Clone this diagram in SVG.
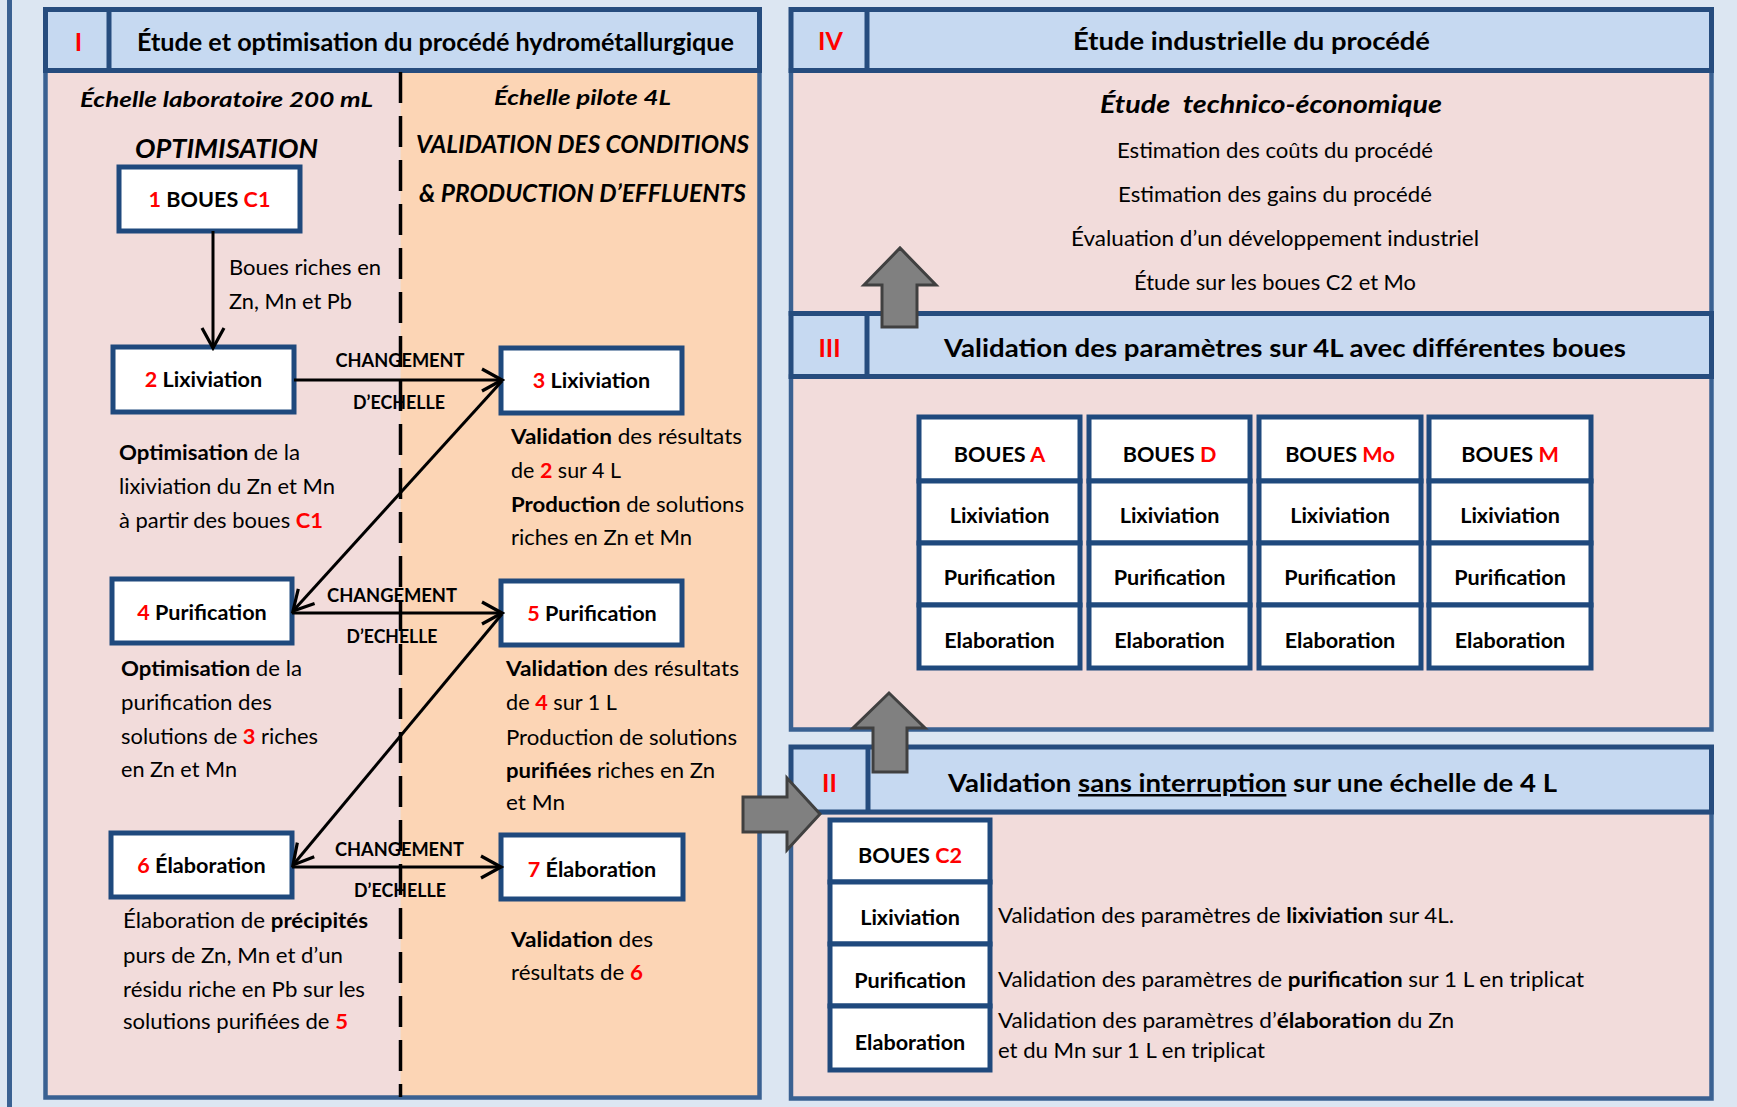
<svg xmlns="http://www.w3.org/2000/svg" width="1737" height="1107" viewBox="0 0 1737 1107">
<defs>
<style>
.t{font-family:Lato,'Liberation Sans',sans-serif;font-size:21.6px;fill:#000}
.b{font-weight:700}
.bi{font-weight:700;font-style:italic}
.r{fill:#ff0000;font-weight:700}
.hd{font-size:25px;font-weight:700}
.ch{font-size:19.2px;font-weight:700}
.m{text-anchor:middle}
.hdr{fill:#c6d9f1;stroke:#264c7e;stroke-width:5}
.pink{fill:#f2dcdb}
.peach{fill:#fcd5b5}
.frame{fill:none;stroke:#3a6192;stroke-width:4.5}
.box{fill:#fff;stroke:#1f497d;stroke-width:5}
.arr{stroke:#000;stroke-width:3;fill:none;marker-end:url(#ah)}
.blk{fill:#808080;stroke:#404040;stroke-width:3;stroke-linejoin:miter}
</style>
<marker id="ah" markerUnits="userSpaceOnUse" markerWidth="26" markerHeight="26" viewBox="0 0 26 26" refX="23" refY="13" orient="auto">
<path d="M3,2 L23,13 L3,24" fill="none" stroke="#000" stroke-width="3.2"/>
</marker>
</defs>

<rect x="0" y="0" width="1737" height="1107" fill="#dce6f2"/>
<line x1="9.5" y1="0" x2="9.5" y2="1107" stroke="#3a6192" stroke-width="5"/>

<!-- Panel I -->
<g id="panel-I">
<rect class="pink" x="45.5" y="70.5" width="355" height="1027"/>
<rect class="peach" x="400.5" y="70.5" width="359" height="1027"/>
<rect class="frame" x="45.5" y="70.5" width="714" height="1027"/>
<rect class="hdr" x="45.5" y="9.5" width="714" height="61"/>
<line x1="109" y1="9.5" x2="109" y2="70.5" stroke="#264c7e" stroke-width="5"/>
<text class="t hd r m" x="78.5" y="51">I</text>
<text class="t hd m" x="435.5" y="51" textLength="597" lengthAdjust="spacingAndGlyphs">Étude et optimisation du procédé hydrométallurgique</text>
<line x1="400.5" y1="72" x2="400.5" y2="1097" stroke="#000" stroke-width="3.5" stroke-dasharray="31 13"/>
<text class="t bi" x="80" y="107" textLength="293" lengthAdjust="spacingAndGlyphs">Échelle laboratoire 200 mL</text>
<text class="t bi" x="494" y="105" textLength="177" lengthAdjust="spacingAndGlyphs">Échelle pilote 4L</text>
<text class="t bi" x="135" y="158" style="font-size:26.4px" textLength="183" lengthAdjust="spacingAndGlyphs">OPTIMISATION</text>
<text class="t bi" x="416" y="153" style="font-size:24px" textLength="333" lengthAdjust="spacingAndGlyphs">VALIDATION DES CONDITIONS</text>
<text class="t bi" x="419" y="202" style="font-size:24px" textLength="327" lengthAdjust="spacingAndGlyphs">&amp; PRODUCTION D’EFFLUENTS</text>
</g>

<g id="node-1">
<rect class="box" x="119" y="167" width="181" height="64"/>
<text class="t b m" x="209.5" y="207"><tspan class="r">1</tspan> BOUES <tspan class="r">C1</tspan></text>
</g>
<text class="t" x="229" y="275" textLength="152" lengthAdjust="spacingAndGlyphs">Boues riches en</text>
<text class="t" x="229" y="309" textLength="123" lengthAdjust="spacingAndGlyphs">Zn, Mn et Pb</text>

<g id="node-2">
<rect class="box" x="113" y="347" width="181" height="65"/>
<text class="t b m" x="203.5" y="387"><tspan class="r">2</tspan> Lixiviation</text>
</g>
<g id="node-3">
<rect class="box" x="501" y="348" width="181" height="65"/>
<text class="t b m" x="591.5" y="388"><tspan class="r">3</tspan> Lixiviation</text>
</g>
<g id="node-4">
<rect class="box" x="112" y="579" width="180" height="64"/>
<text class="t b m" x="202" y="620"><tspan class="r">4</tspan> Purification</text>
</g>
<g id="node-5">
<rect class="box" x="501" y="581" width="181" height="64"/>
<text class="t b m" x="592" y="621"><tspan class="r">5</tspan> Purification</text>
</g>
<g id="node-6">
<rect class="box" x="111" y="833" width="181" height="64"/>
<text class="t b m" x="201.5" y="873"><tspan class="r">6</tspan> Élaboration</text>
</g>
<g id="node-7">
<rect class="box" x="501" y="835" width="182" height="64"/>
<text class="t b m" x="592" y="877"><tspan class="r">7</tspan> Élaboration</text>
</g>

<g id="texts-I">
<text class="t" x="119" y="460" textLength="181" lengthAdjust="spacingAndGlyphs"><tspan class="b">Optimisation</tspan> de la</text>
<text class="t" x="119" y="494" textLength="216" lengthAdjust="spacingAndGlyphs">lixiviation du Zn et Mn</text>
<text class="t" x="119" y="528" textLength="204" lengthAdjust="spacingAndGlyphs">à partir des boues <tspan class="r">C1</tspan></text>

<text class="t" x="511" y="444" textLength="231" lengthAdjust="spacingAndGlyphs"><tspan class="b">Validation</tspan> des résultats</text>
<text class="t" x="511" y="478" textLength="110" lengthAdjust="spacingAndGlyphs">de <tspan class="r">2</tspan> sur 4 L</text>
<text class="t" x="511" y="512" textLength="233" lengthAdjust="spacingAndGlyphs"><tspan class="b">Production</tspan> de solutions</text>
<text class="t" x="511" y="545" textLength="181" lengthAdjust="spacingAndGlyphs">riches en Zn et Mn</text>

<text class="t" x="121" y="676" textLength="181" lengthAdjust="spacingAndGlyphs"><tspan class="b">Optimisation</tspan> de la</text>
<text class="t" x="121" y="710" textLength="151" lengthAdjust="spacingAndGlyphs">purification des</text>
<text class="t" x="121" y="744" textLength="197" lengthAdjust="spacingAndGlyphs">solutions de <tspan class="r">3</tspan> riches</text>
<text class="t" x="121" y="777" textLength="116" lengthAdjust="spacingAndGlyphs">en Zn et Mn</text>

<text class="t" x="506" y="676" textLength="233" lengthAdjust="spacingAndGlyphs"><tspan class="b">Validation</tspan> des résultats</text>
<text class="t" x="506" y="710" textLength="111" lengthAdjust="spacingAndGlyphs">de <tspan class="r">4</tspan> sur 1 L</text>
<text class="t" x="506" y="745" textLength="231" lengthAdjust="spacingAndGlyphs">Production de solutions</text>
<text class="t" x="506" y="778" textLength="209" lengthAdjust="spacingAndGlyphs"><tspan class="b">purifiées</tspan> riches en Zn</text>
<text class="t" x="506" y="810" textLength="59" lengthAdjust="spacingAndGlyphs">et Mn</text>

<text class="t" x="123" y="928" textLength="245" lengthAdjust="spacingAndGlyphs">Élaboration de <tspan class="b">précipités</tspan></text>
<text class="t" x="123" y="963" textLength="220" lengthAdjust="spacingAndGlyphs">purs de Zn, Mn et d’un</text>
<text class="t" x="123" y="997" textLength="242" lengthAdjust="spacingAndGlyphs">résidu riche en Pb sur les</text>
<text class="t" x="123" y="1029" textLength="225" lengthAdjust="spacingAndGlyphs">solutions purifiées de <tspan class="r">5</tspan></text>

<text class="t" x="511" y="947" textLength="142" lengthAdjust="spacingAndGlyphs"><tspan class="b">Validation</tspan> des</text>
<text class="t" x="511" y="980" textLength="132" lengthAdjust="spacingAndGlyphs">résultats de <tspan class="r">6</tspan></text>
</g>

<!-- Panel IV -->
<g id="panel-IV">
<rect class="pink" x="791" y="70.5" width="920.5" height="243"/>
<rect class="frame" x="791" y="70.5" width="920.5" height="243"/>
<rect class="hdr" x="791" y="9.5" width="920.5" height="61"/>
<line x1="867" y1="9.5" x2="867" y2="70.5" stroke="#264c7e" stroke-width="5"/>
<text class="t hd r m" x="830.5" y="50">IV</text>
<text class="t hd m" x="1251.5" y="50" textLength="357" lengthAdjust="spacingAndGlyphs">Étude industrielle du procédé</text>
<text class="t bi m" x="1271" y="113" style="font-size:24px;white-space:pre" xml:space="preserve" textLength="342" lengthAdjust="spacingAndGlyphs">Étude  technico-économique</text>
<text class="t m" x="1275" y="158" textLength="316" lengthAdjust="spacingAndGlyphs">Estimation des coûts du procédé</text>
<text class="t m" x="1275" y="202" textLength="314" lengthAdjust="spacingAndGlyphs">Estimation des gains du procédé</text>
<text class="t m" x="1275" y="246" textLength="408" lengthAdjust="spacingAndGlyphs">Évaluation d’un développement industriel</text>
<text class="t m" x="1275" y="290" textLength="282" lengthAdjust="spacingAndGlyphs">Étude sur les boues C2 et Mo</text>
</g>

<!-- Panel III -->
<g id="panel-III">
<rect class="pink" x="791" y="376.5" width="920.5" height="353"/>
<rect class="frame" x="791" y="376.5" width="920.5" height="353"/>
<rect class="hdr" x="791" y="313.5" width="920.5" height="63"/>
<line x1="867" y1="313.5" x2="867" y2="376.5" stroke="#264c7e" stroke-width="5"/>
<text class="t hd r m" x="829.5" y="357">III</text>
<text class="t hd m" x="1285" y="357" textLength="682" lengthAdjust="spacingAndGlyphs">Validation des paramètres sur 4L avec différentes boues</text>
</g>

<g id="col-A">
<rect class="box" x="919" y="417" width="161" height="64"/>
<rect class="box" x="919" y="481" width="161" height="62"/>
<rect class="box" x="919" y="543" width="161" height="62"/>
<rect class="box" x="919" y="605" width="161" height="63"/>
<text class="t b m" x="999.5" y="462">BOUES <tspan class="r">A</tspan></text>
<text class="t b m" x="999.5" y="523">Lixiviation</text>
<text class="t b m" x="999.5" y="585">Purification</text>
<text class="t b m" x="999.5" y="648">Elaboration</text>
</g>
<g id="col-D">
<rect class="box" x="1089" y="417" width="161" height="64"/>
<rect class="box" x="1089" y="481" width="161" height="62"/>
<rect class="box" x="1089" y="543" width="161" height="62"/>
<rect class="box" x="1089" y="605" width="161" height="63"/>
<text class="t b m" x="1169.5" y="462">BOUES <tspan class="r">D</tspan></text>
<text class="t b m" x="1169.5" y="523">Lixiviation</text>
<text class="t b m" x="1169.5" y="585">Purification</text>
<text class="t b m" x="1169.5" y="648">Elaboration</text>
</g>
<g id="col-Mo">
<rect class="box" x="1259" y="417" width="162" height="64"/>
<rect class="box" x="1259" y="481" width="162" height="62"/>
<rect class="box" x="1259" y="543" width="162" height="62"/>
<rect class="box" x="1259" y="605" width="162" height="63"/>
<text class="t b m" x="1340" y="462">BOUES <tspan class="r">Mo</tspan></text>
<text class="t b m" x="1340" y="523">Lixiviation</text>
<text class="t b m" x="1340" y="585">Purification</text>
<text class="t b m" x="1340" y="648">Elaboration</text>
</g>
<g id="col-M">
<rect class="box" x="1429" y="417" width="162" height="64"/>
<rect class="box" x="1429" y="481" width="162" height="62"/>
<rect class="box" x="1429" y="543" width="162" height="62"/>
<rect class="box" x="1429" y="605" width="162" height="63"/>
<text class="t b m" x="1510" y="462">BOUES <tspan class="r">M</tspan></text>
<text class="t b m" x="1510" y="523">Lixiviation</text>
<text class="t b m" x="1510" y="585">Purification</text>
<text class="t b m" x="1510" y="648">Elaboration</text>
</g>

<!-- Panel II -->
<g id="panel-II">
<rect class="pink" x="791" y="812" width="920.5" height="286.5"/>
<rect class="frame" x="791" y="812" width="920.5" height="286.5"/>
<rect class="hdr" x="791" y="747" width="920.5" height="65"/>
<line x1="868" y1="747" x2="868" y2="812" stroke="#264c7e" stroke-width="5"/>
<text class="t hd r m" x="829.5" y="792">II</text>
<text class="t hd m" x="1252.5" y="792" textLength="609" lengthAdjust="spacingAndGlyphs">Validation <tspan text-decoration="underline">sans interruption</tspan> sur une échelle de 4 L</text>
</g>
<g id="col-C2">
<rect class="box" x="830" y="820" width="160" height="62"/>
<rect class="box" x="830" y="882" width="160" height="62"/>
<rect class="box" x="830" y="944" width="160" height="62"/>
<rect class="box" x="830" y="1006" width="160" height="64"/>
<text class="t b m" x="910" y="863">BOUES <tspan class="r">C2</tspan></text>
<text class="t b m" x="910" y="925">Lixiviation</text>
<text class="t b m" x="910" y="988">Purification</text>
<text class="t b m" x="910" y="1050">Elaboration</text>
</g>
<g id="texts-II">
<text class="t" x="998" y="923" textLength="456" lengthAdjust="spacingAndGlyphs">Validation des paramètres de <tspan class="b">lixiviation</tspan> sur 4L.</text>
<text class="t" x="998" y="987" textLength="586" lengthAdjust="spacingAndGlyphs">Validation des paramètres de <tspan class="b">purification</tspan> sur 1 L en triplicat</text>
<text class="t" x="998" y="1028" textLength="456" lengthAdjust="spacingAndGlyphs">Validation des paramètres d’<tspan class="b">élaboration</tspan> du Zn</text>
<text class="t" x="998" y="1058" textLength="267" lengthAdjust="spacingAndGlyphs">et du Mn sur 1 L en triplicat</text>
</g>

<!-- Connectors -->
<g id="connectors">
<line class="arr" x1="213" y1="231" x2="213" y2="348"/>
<line class="arr" x1="294" y1="380" x2="502" y2="380"/>
<line class="arr" x1="502" y1="381" x2="293" y2="611"/>
<line class="arr" x1="292" y1="613" x2="502" y2="613"/>
<line class="arr" x1="502" y1="614" x2="293" y2="865"/>
<line class="arr" x1="292" y1="867" x2="501" y2="867"/>
<path class="blk" d="M882,327 L882,285 L864,285 L900,248 L936,285 L917,285 L917,327 Z"/>
<path class="blk" d="M873,772 L873,728 L853,728 L889,693 L925,728 L907,728 L907,772 Z"/>
<path class="blk" d="M743,797 L787,797 L787,778 L820,814 L787,850 L787,832 L743,832 Z"/>
</g>

<g id="labels">
<text class="t ch m" x="400" y="367" textLength="129" lengthAdjust="spacingAndGlyphs">CHANGEMENT</text>
<text class="t ch m" x="399" y="409" textLength="92" lengthAdjust="spacingAndGlyphs">D’ECHELLE</text>
<text class="t ch m" x="392" y="602" textLength="130" lengthAdjust="spacingAndGlyphs">CHANGEMENT</text>
<text class="t ch m" x="392" y="643" textLength="91" lengthAdjust="spacingAndGlyphs">D’ECHELLE</text>
<text class="t ch m" x="399.5" y="856" textLength="129" lengthAdjust="spacingAndGlyphs">CHANGEMENT</text>
<text class="t ch m" x="400" y="897" textLength="92" lengthAdjust="spacingAndGlyphs">D’ECHELLE</text>
</g>
</svg>
